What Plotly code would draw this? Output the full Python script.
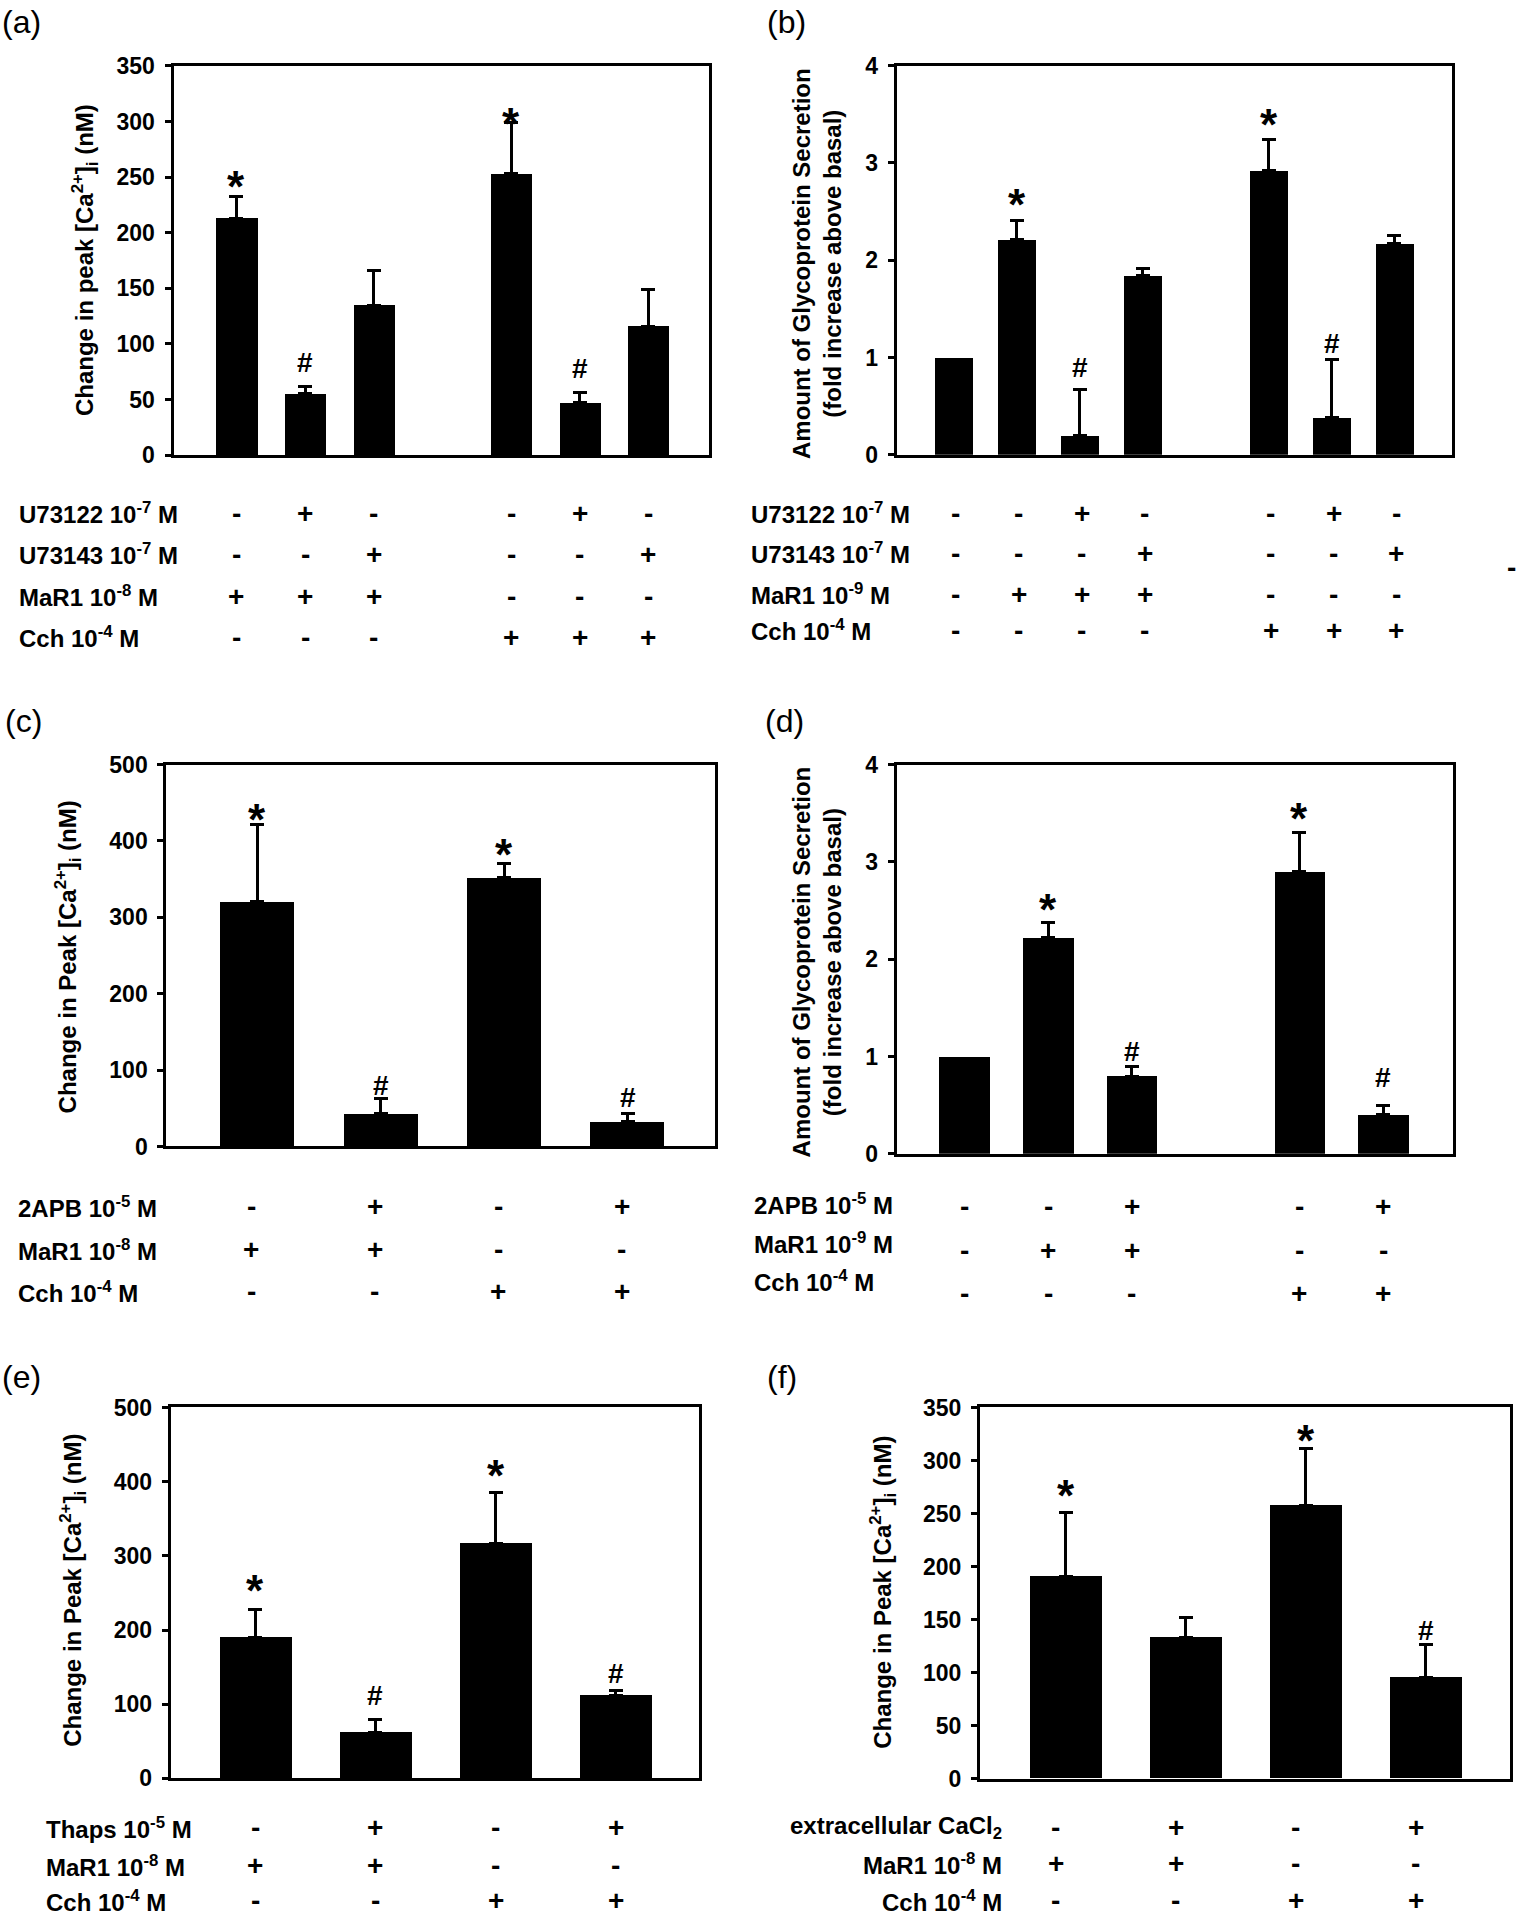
import plotly.graph_objects as go

# ---------------- data ----------------
a_values = [213, 55, 135, None, 253, 47, 116]
a_errors = [20, 7, 31, None, 46, 9, 33]
a_rows = ["U73122 10<sup>-7</sup> M", "U73143 10<sup>-7</sup> M", "MaR1 10<sup>-8</sup> M", "Cch 10<sup>-4</sup> M"]
a_signs = [["-", "+", "-", "", "-", "+", "-"],
           ["-", "-", "+", "", "-", "-", "+"],
           ["+", "+", "+", "", "-", "-", "-"],
           ["-", "-", "-", "", "+", "+", "+"]]
a_marks = [(0, "*", 251), (1, "#", 83), (4, "*", 307), (5, "#", 78)]

b_values = [1.0, 2.21, 0.2, 1.84, None, 2.92, 0.38, 2.17]
b_errors = [None, 0.2, 0.47, 0.07, None, 0.32, 0.6, 0.08]
b_rows = ["U73122 10<sup>-7</sup> M", "U73143 10<sup>-7</sup> M", "MaR1 10<sup>-9</sup> M", "Cch 10<sup>-4</sup> M"]
b_signs = [["-", "-", "+", "-", "", "-", "+", "-"],
           ["-", "-", "-", "+", "", "-", "-", "+"],
           ["-", "+", "+", "+", "", "-", "-", "-"],
           ["-", "-", "-", "-", "", "+", "+", "+"]]
b_marks = [(1, "*", 2.68), (2, "#", 0.9), (5, "*", 3.5), (6, "#", 1.14)]

c_values = [321, 43, 352, 33]
c_errors = [101, 20, 18, 10]
c_rows = ["2APB 10<sup>-5</sup> M", "MaR1 10<sup>-8</sup> M", "Cch 10<sup>-4</sup> M"]
c_signs = [["-", "+", "-", "+"],
           ["+", "+", "-", "-"],
           ["-", "-", "+", "+"]]
c_marks = [(0, "*", 441), (1, "#", 80), (2, "*", 396), (3, "#", 64)]

d_values = [1.0, 2.22, 0.8, None, 2.9, 0.4]
d_errors = [None, 0.16, 0.1, None, 0.4, 0.1]
d_rows = ["2APB 10<sup>-5</sup> M", "MaR1 10<sup>-9</sup> M", "Cch 10<sup>-4</sup> M"]
d_signs = [["-", "-", "+", "", "-", "+"],
           ["-", "+", "+", "", "-", "-"],
           ["-", "-", "-", "", "+", "+"]]
d_marks = [(1, "*", 2.61), (2, "#", 1.05), (4, "*", 3.55), (5, "#", 0.78)]

e_values = [190, 62, 317, 112]
e_errors = [38, 18, 68, 7]
e_rows = ["Thaps 10<sup>-5</sup> M", "MaR1 10<sup>-8</sup> M", "Cch 10<sup>-4</sup> M"]
e_signs = [["-", "+", "-", "+"],
           ["+", "+", "-", "-"],
           ["-", "-", "+", "+"]]
e_marks = [(0, "*", 267), (1, "#", 112), (2, "*", 422), (3, "#", 142)]

f_values = [191, 133, 258, 95]
f_errors = [60, 19, 53, 31]
f_rows = ["extracellular CaCl<sub>2</sub>", "MaR1 10<sup>-8</sup> M", "Cch 10<sup>-4</sup> M"]
f_signs = [["-", "+", "-", "+"],
           ["+", "+", "-", "-"],
           ["-", "-", "+", "+"]]
f_marks = [(0, "*", 276), (2, "*", 328), (3, "#", 140)]

ca_title_a = "Change in peak [Ca<sup>2+</sup>]<sub>i</sub> (nM)"
ca_title = "Change in Peak [Ca<sup>2+</sup>]<sub>i</sub> (nM)"
gly_title = "Amount of Glycoprotein Secretion<br>(fold increase above basal)"

# ---------------- layout ----------------
W, H = 1518, 1920
FONT = "Liberation Sans, Arial, sans-serif"
# empirical vertical calibration of the captured page: screen_y = Y0 + KY * layout_y
Y0, KY = 12.1, 0.9859


def px(x):
    return x / W


def py(y):
    return 1 - ((y - Y0) / KY) / H


panels = [
    dict(tag="(a)", tag_xy=(0, 21), values=a_values, errors=a_errors, rows=a_rows, signs=a_signs,
         marks=a_marks, ymax=350, dtick=50, title=ca_title_a, title_xy=(85, 259),
         box=(173.5, 709, 65, 454), xr=(-0.917, 6.883), label_x=17, label_anchor="left",
         label_y=[512, 553, 595, 636], sign_y=[512, 553, 595, 636], sign_shift=0),
    dict(tag="(b)", tag_xy=(765, 21), values=b_values, errors=b_errors, rows=b_rows, signs=b_signs,
         marks=b_marks, ymax=4, dtick=1, title=gly_title, title_xy=(817, 263),
         box=(896.7, 1451.7, 64.7, 453.7), xr=(-0.91, 7.91), label_x=749, label_anchor="left",
         label_y=[512, 552, 593, 629], sign_y=[512, 552, 593, 629], sign_shift=2),
    dict(tag="(c)", tag_xy=(3, 720), values=c_values, errors=c_errors, rows=c_rows, signs=c_signs,
         marks=c_marks, ymax=500, dtick=100, title=ca_title, title_xy=(68, 956),
         box=(166.3, 715, 763.3, 1144.9), xr=(-0.738, 3.707), label_x=16, label_anchor="left",
         label_y=[1205, 1248, 1290], sign_y=[1205, 1248, 1290], sign_shift=-6),
    dict(tag="(d)", tag_xy=(763, 720), values=d_values, errors=d_errors, rows=d_rows, signs=d_signs,
         marks=d_marks, ymax=4, dtick=1, title=gly_title, title_xy=(817, 961),
         box=(896.7, 1453, 763.3, 1152.3), xr=(-0.807, 5.833), label_x=752, label_anchor="left",
         label_y=[1202, 1241, 1279], sign_y=[1205, 1249, 1292], sign_shift=0),
    dict(tag="(e)", tag_xy=(0, 1375), values=e_values, errors=e_errors, rows=e_rows, signs=e_signs,
         marks=e_marks, ymax=500, dtick=100, title=ca_title, title_xy=(73, 1589),
         box=(170.7, 699.4, 1405.8, 1776.5), xr=(-0.705, 3.698), label_x=44, label_anchor="left",
         label_y=[1826, 1864, 1899], sign_y=[1826, 1864, 1899], sign_shift=0),
    dict(tag="(f)", tag_xy=(765, 1375), values=f_values, errors=f_errors, rows=f_rows, signs=f_signs,
         marks=f_marks, ymax=350, dtick=50, title=ca_title, title_xy=(883, 1591),
         box=(980, 1510, 1405.8, 1776.7), xr=(-0.7125, 3.704), label_x=1004, label_anchor="right",
         label_y=[1826, 1862, 1899], sign_y=[1826, 1862, 1899], sign_shift=-10),
]

fig = go.Figure()
annotations = []
layout_axes = {}

for i, p in enumerate(panels, start=1):
    xa = "x" if i == 1 else f"x{i}"
    ya = "y" if i == 1 else f"y{i}"
    xkey = "xaxis" if i == 1 else f"xaxis{i}"
    ykey = "yaxis" if i == 1 else f"yaxis{i}"
    l, r, t, b = p["box"]

    idx = list(range(len(p["values"])))
    with_err = [k for k in idx if p["values"][k] is not None and p["errors"][k] is not None]
    no_err = [k for k in idx if p["values"][k] is not None and p["errors"][k] is None]

    fig.add_trace(go.Bar(
        x=with_err, y=[p["values"][k] for k in with_err], width=0.6,
        marker=dict(color="black", line=dict(width=0)),
        error_y=dict(type="data", symmetric=False,
                     array=[p["errors"][k] for k in with_err],
                     arrayminus=[0] * len(with_err),
                     color="black", thickness=3, width=7),
        xaxis=xa, yaxis=ya, showlegend=False, hoverinfo="skip"))
    if no_err:
        fig.add_trace(go.Bar(
            x=no_err, y=[p["values"][k] for k in no_err], width=0.6,
            marker=dict(color="black", line=dict(width=0)),
            xaxis=xa, yaxis=ya, showlegend=False, hoverinfo="skip"))

    layout_axes[xkey] = dict(domain=[px(l), px(r)], range=list(p["xr"]), anchor=ya,
                             showline=True, linewidth=3, linecolor="black", mirror=True,
                             ticks="", showticklabels=False, showgrid=False, zeroline=False)
    layout_axes[ykey] = dict(domain=[py(b), py(t)], range=[0, p["ymax"]], anchor=xa,
                             tickmode="linear", tick0=0, dtick=p["dtick"],
                             showline=True, linewidth=3, linecolor="black", mirror=True,
                             ticks="outside", ticklen=6, tickwidth=3, tickcolor="black",
                             ticklabelstandoff=5,
                             tickfont=dict(family=FONT, size=23, color="black", weight="bold"),
                             showgrid=False, zeroline=False)

    # significance marks
    for k, sym, yv in p["marks"]:
        size = 44 if sym == "*" else 28
        annotations.append(dict(xref=xa, yref=ya, x=k, y=yv, text=sym, showarrow=False,
                                xanchor="center", yanchor="middle",
                                yshift=-10 if sym == "*" else 0,
                                font=dict(family=FONT, size=size, color="black", weight="bold")))

    # condition table
    for row, lab, ly, sy in zip(p["signs"], p["rows"], p["label_y"], p["sign_y"]):
        annotations.append(dict(xref="paper", yref="paper", x=px(p["label_x"]), y=py(ly),
                                text=lab, showarrow=False, xanchor=p["label_anchor"],
                                yanchor="middle",
                                font=dict(family=FONT, size=24, color="black", weight="bold")))
        for k, s in enumerate(row):
            if not s:
                continue
            annotations.append(dict(xref=xa, yref="paper", x=k, y=py(sy), text=s,
                                    showarrow=False, xanchor="center", yanchor="middle",
                                    xshift=p["sign_shift"],
                                    font=dict(family=FONT, size=28, color="black", weight="bold")))

    # y-axis title
    annotations.append(dict(xref="paper", yref="paper", x=px(p["title_xy"][0]), y=py(p["title_xy"][1]),
                            text=p["title"], textangle=-90, showarrow=False,
                            xanchor="center", yanchor="middle",
                            font=dict(family=FONT, size=24, color="black", weight="bold")))
    # panel tag
    annotations.append(dict(xref="paper", yref="paper", x=px(p["tag_xy"][0]), y=py(p["tag_xy"][1]),
                            text=p["tag"], showarrow=False, xanchor="left", yanchor="middle",
                            font=dict(family=FONT, size=32, color="black")))

# stray dash at the right edge of panel (b)
annotations.append(dict(xref="paper", yref="paper", x=px(1511), y=py(566), text="-",
                        showarrow=False, xanchor="center", yanchor="middle",
                        font=dict(family=FONT, size=28, color="black", weight="bold")))

fig.update_layout(width=W, height=H, margin=dict(l=0, r=0, t=0, b=0),
                  paper_bgcolor="white", plot_bgcolor="white",
                  bargap=0, annotations=annotations, **layout_axes)

fig.write_html("out.html", config={"displayModeBar": False},
               post_script="document.body.style.margin='0';document.body.style.overflow='hidden';")
